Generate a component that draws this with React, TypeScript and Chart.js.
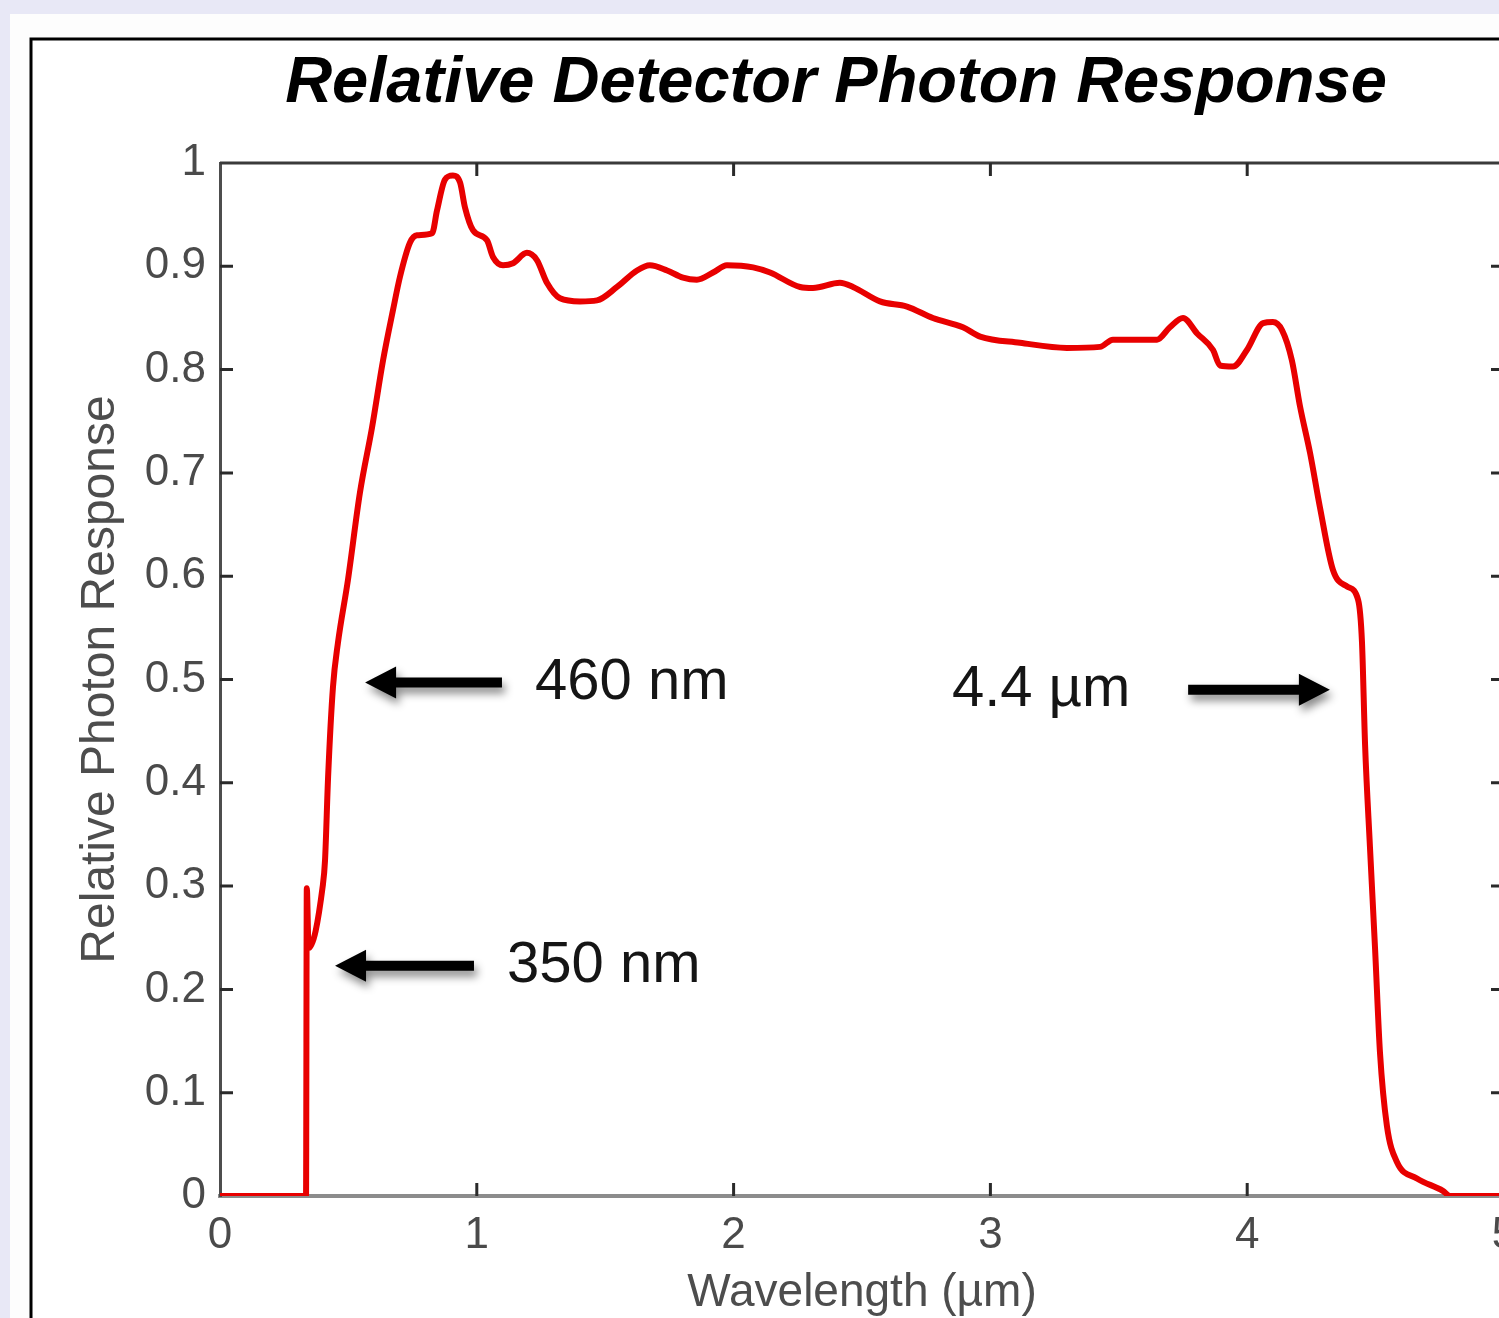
import React, { useEffect, useRef } from 'react';
import { Chart, registerables } from 'chart.js';

Chart.register(...registerables);

// ---- data ----
const wavelengths = [
  0, 0.335, 0.338, 0.345, 0.40, 0.409, 0.421, 0.440, 0.459, 0.498, 0.545, 0.592, 0.635, 0.674, 0.701,
  0.740, 0.767, 0.826, 0.845, 0.876, 0.907, 0.935, 0.954, 0.985, 1.040, 1.063, 1.102, 1.141, 1.195,
  1.234, 1.273, 1.324, 1.402, 1.468, 1.546, 1.624, 1.674, 1.741, 1.803, 1.857, 1.920, 1.974, 2.076,
  2.142, 2.259, 2.309, 2.414, 2.465, 2.570, 2.675, 2.776, 2.893, 2.960, 3.115, 3.298, 3.427, 3.477,
  3.649, 3.699, 3.750, 3.805, 3.867, 3.894, 3.945, 3.999, 4.062, 4.100, 4.136, 4.174, 4.206, 4.245,
  4.283, 4.334, 4.389, 4.432, 4.447, 4.459, 4.478, 4.498, 4.517, 4.544, 4.583, 4.661, 4.762, 4.79, 5,
];
const responses = [
  0, 0, 0.298, 0.24, 0.30, 0.325, 0.406, 0.493, 0.535, 0.596, 0.681, 0.744, 0.809, 0.858, 0.890,
  0.923, 0.930, 0.932, 0.954, 0.984, 0.988, 0.981, 0.957, 0.935, 0.925, 0.909, 0.901, 0.903, 0.913,
  0.906, 0.884, 0.869, 0.866, 0.867, 0.880, 0.896, 0.901, 0.896, 0.889, 0.887, 0.894, 0.901, 0.899,
  0.894, 0.880, 0.879, 0.884, 0.880, 0.866, 0.861, 0.850, 0.841, 0.832, 0.826, 0.821, 0.822, 0.829,
  0.829, 0.841, 0.850, 0.835, 0.819, 0.804, 0.803, 0.819, 0.845, 0.846, 0.838, 0.809, 0.764, 0.719,
  0.667, 0.606, 0.590, 0.577, 0.536, 0.437, 0.338, 0.239, 0.139, 0.068, 0.033, 0.017, 0.005, 0, 0,
];
const xTickLabels = ['0', '1', '2', '3', '4', '5'];
const yTickLabels = ['0', '0.1', '0.2', '0.3', '0.4', '0.5', '0.6', '0.7', '0.8', '0.9', '1'];

const chartTitle = 'Relative Detector Photon Response';
const xAxisTitle = 'Wavelength (µm)';
const yAxisTitle = 'Relative Photon Response';

const annotationLabels = ['460 nm', '350 nm', '4.4 µm'];
const annotationTextX = [1.227, 1.118, 2.85];
const annotationY = [0.497, 0.223, 0.49];
const arrowTailX = [1.098, 0.989, 3.77];
const arrowHeadX = [0.565, 0.448, 4.322];

const FONT = '"Liberation Sans", Arial, Helvetica, sans-serif';

function drawArrow(ctx: CanvasRenderingContext2D, tail: number, head: number, y: number) {
  const dir = head > tail ? 1 : -1;
  const headLen = 31;
  const headHalf = 16;
  const shaft = 5;
  const back = head - dir * headLen;
  ctx.save();
  ctx.shadowColor = 'rgba(0,0,0,0.45)';
  ctx.shadowBlur = 8;
  ctx.shadowOffsetX = 3;
  ctx.shadowOffsetY = 6;
  ctx.fillStyle = '#000';
  ctx.beginPath();
  ctx.moveTo(tail, y - shaft);
  ctx.lineTo(back, y - shaft);
  ctx.lineTo(back, y - headHalf);
  ctx.lineTo(head, y);
  ctx.lineTo(back, y + headHalf);
  ctx.lineTo(back, y + shaft);
  ctx.lineTo(tail, y + shaft);
  ctx.closePath();
  ctx.fill();
  ctx.restore();
}

const decorPlugin = {
  id: 'decor',
  beforeDraw(chart: any) {
    const { ctx, width, height } = chart;
    ctx.save();
    ctx.fillStyle = '#e8e8f6';
    ctx.fillRect(0, 0, width, height);
    ctx.fillStyle = '#fdfdfd';
    ctx.fillRect(10, 14, width, height);
    ctx.fillStyle = '#ffffff';
    ctx.fillRect(31, 39, width, height);
    ctx.strokeStyle = '#000';
    ctx.lineWidth = 3;
    ctx.strokeRect(31, 39, width - 40, height - 20);
    ctx.restore();
  },
  afterDraw(chart: any) {
    const { ctx, chartArea } = chart;
    const xs = chart.scales.x;
    const ys = chart.scales.y;
    ctx.save();
    // top and right box edges
    ctx.strokeStyle = '#3a3a3a';
    ctx.lineWidth = 3;
    ctx.beginPath();
    ctx.moveTo(chartArea.left, chartArea.top);
    ctx.lineTo(chartArea.right, chartArea.top);
    ctx.lineTo(chartArea.right, chartArea.bottom);
    ctx.stroke();
    // inward ticks
    ctx.strokeStyle = '#2a2a2a';
    ctx.lineWidth = 3;
    const tl = 13;
    ctx.beginPath();
    xs.ticks.forEach((t: any) => {
      const px = xs.getPixelForValue(t.value);
      if (t.value > 0 && t.value < 5) {
        ctx.moveTo(px, chartArea.bottom);
        ctx.lineTo(px, chartArea.bottom - tl);
        ctx.moveTo(px, chartArea.top);
        ctx.lineTo(px, chartArea.top + tl);
      }
    });
    ys.ticks.forEach((t: any) => {
      const py = ys.getPixelForValue(t.value);
      if (t.value > 0 && t.value < 1) {
        ctx.moveTo(chartArea.left, py);
        ctx.lineTo(chartArea.left + tl, py);
        ctx.moveTo(chartArea.right, py);
        ctx.lineTo(chartArea.right - tl, py);
      }
    });
    ctx.stroke();

    // title
    ctx.fillStyle = '#000';
    ctx.font = `italic bold 65px ${FONT}`;
    ctx.textAlign = 'center';
    ctx.textBaseline = 'alphabetic';
    ctx.fillText(chartTitle, 836, 102);

    // annotations
    annotationLabels.forEach((label, i) => {
      const y = ys.getPixelForValue(annotationY[i]);
      drawArrow(ctx, xs.getPixelForValue(arrowTailX[i]), xs.getPixelForValue(arrowHeadX[i]), y);
      ctx.fillStyle = '#151515';
      ctx.font = `58px ${FONT}`;
      ctx.textAlign = 'left';
      ctx.textBaseline = 'middle';
      ctx.fillText(label, xs.getPixelForValue(annotationTextX[i]), y);
    });
    ctx.restore();
  },
};

export default function App() {
  const ref = useRef<HTMLCanvasElement>(null);
  useEffect(() => {
    const canvas = ref.current;
    if (!canvas) return;
    const chart = new Chart(canvas, {
      type: 'line',
      data: {
        datasets: [
          {
            data: wavelengths.map((x, i) => ({ x, y: responses[i] })),
            borderColor: '#e80000',
            borderWidth: 6,
            pointRadius: 0,
            cubicInterpolationMode: 'monotone',
            borderJoinStyle: 'round',
            fill: false,
          },
        ],
      },
      options: {
        responsive: false,
        maintainAspectRatio: false,
        animation: false,
        layout: { padding: { left: 72, top: 163, right: 216, bottom: 79 } },
        plugins: {
          legend: { display: false },
          title: { display: false },
          tooltip: { enabled: false },
        },
        scales: {
          x: {
            type: 'linear',
            min: 0,
            max: 5,
            ticks: {
              stepSize: 1,
              padding: 13,
              maxRotation: 0,
              autoSkip: false,
              color: '#4a4a4a',
              font: { family: FONT, size: 44 },
              callback: (v: any) => xTickLabels[Math.round(Number(v))],
            },
            grid: { display: false, drawTicks: false },
            border: { display: true, color: '#8c8c8c', width: 4 },
            title: {
              display: true,
              text: xAxisTitle,
              color: '#4d4d4d',
              font: { family: FONT, size: 46 },
              padding: 0,
            },
            afterFit: (s: any) => {
              s.height = 125;
            },
          },
          y: {
            type: 'linear',
            min: 0,
            max: 1,
            ticks: {
              stepSize: 0.1,
              padding: 14,
              color: '#4a4a4a',
              font: { family: FONT, size: 44 },
              callback: (v: any) => yTickLabels[Math.round(Number(v) * 10)],
            },
            grid: { display: false, drawTicks: false },
            border: { display: true, color: '#4d4d4d', width: 3 },
            title: {
              display: true,
              text: yAxisTitle,
              color: '#4d4d4d',
              font: { family: FONT, size: 48 },
              padding: 0,
            },
            afterFit: (s: any) => {
              s.width = 148;
            },
          },
        },
      },
      plugins: [decorPlugin],
    } as any);
    return () => chart.destroy();
  }, []);

  return (
    <div
      style={{
        position: 'fixed',
        left: 0,
        top: 0,
        width: 1499,
        height: 1318,
        overflow: 'hidden',
        background: '#e8e8f6',
      }}
    >
      <canvas ref={ref} width={1720} height={1400} style={{ display: 'block', width: 1720, height: 1400 }} />
    </div>
  );
}
